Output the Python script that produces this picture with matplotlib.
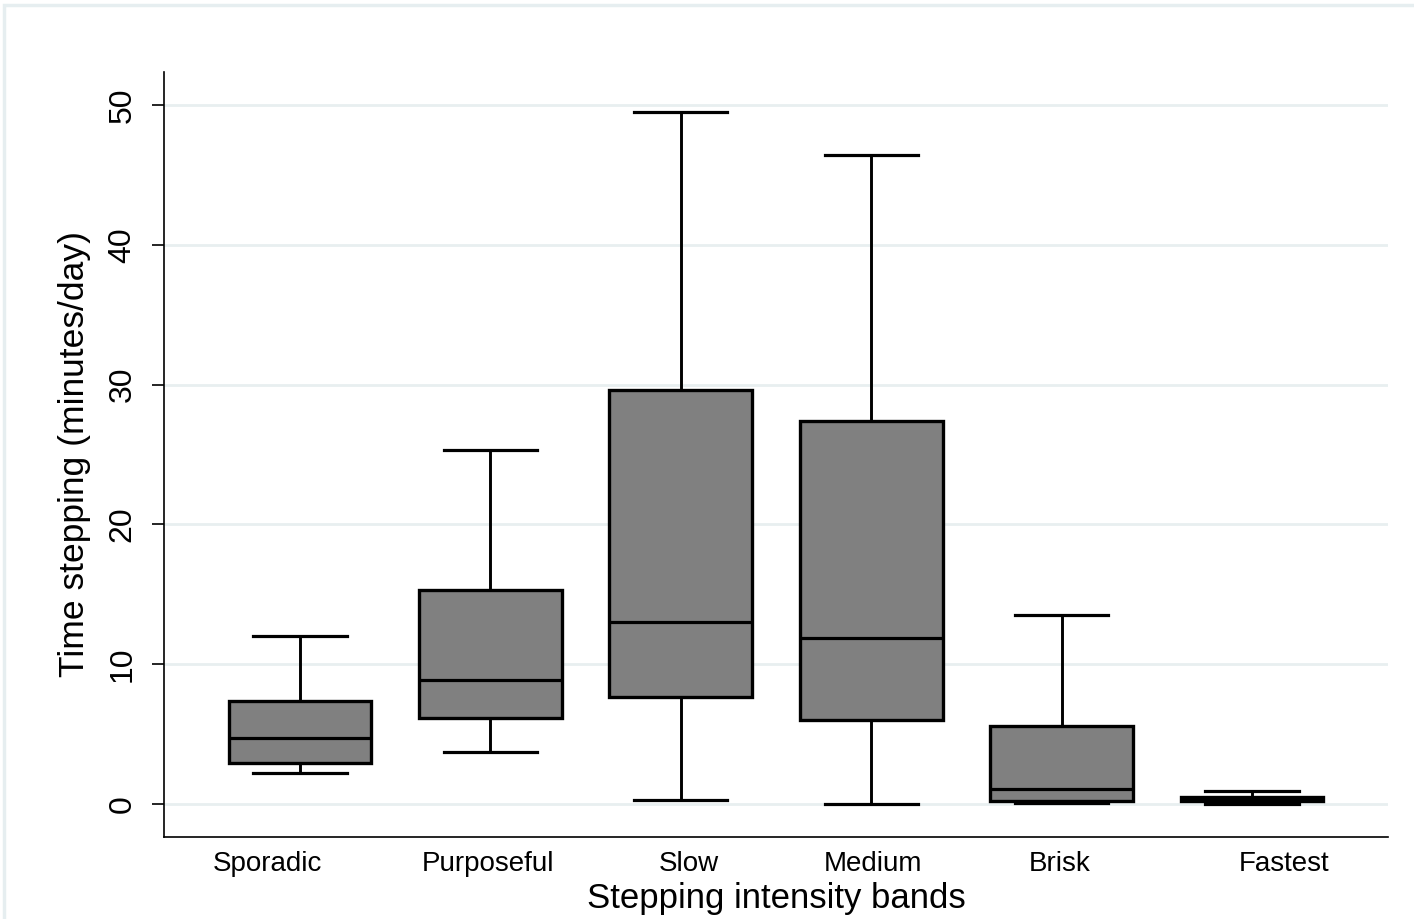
import matplotlib
matplotlib.use('Agg')
import matplotlib.pyplot as plt
from matplotlib.patches import Rectangle

# Box plot summary values (minutes/day)
bands = ['Sporadic', 'Purposeful', 'Slow', 'Medium', 'Brisk', 'Fastest']
whisker_low = [2.2, 3.7, 0.3, 0.0, 0.05, 0.0]
q1 = [2.9, 6.15, 7.65, 6.0, 0.2, 0.2]
median = [4.7, 8.9, 13.0, 11.9, 1.1, 0.35]
q3 = [7.35, 15.3, 29.6, 27.4, 5.6, 0.5]
whisker_high = [12.0, 25.3, 49.5, 46.4, 13.5, 0.95]
y_ticks = [0, 10, 20, 30, 40, 50]

plt.rcParams['font.family'] = ['Liberation Sans', 'DejaVu Sans']

fig = plt.figure(figsize=(14.14, 9.19), dpi=100)
# Stata-style outer frame
fig.patches.append(Rectangle((0.003, -0.01), 1.0, 1.005, transform=fig.transFigure,
                             fill=False, edgecolor='#e6eef0', linewidth=2.5))
ax = fig.add_axes([0.116, 0.0892, 0.8656, 0.8325])

stats = []
for i in range(len(bands)):
    stats.append({'whislo': whisker_low[i], 'q1': q1[i], 'med': median[i],
                  'q3': q3[i], 'whishi': whisker_high[i], 'fliers': []})

ax.bxp(stats, positions=range(len(bands)), widths=0.75, patch_artist=True,
       showfliers=False,
       boxprops=dict(facecolor='#808080', edgecolor='black', linewidth=2.4),
       medianprops=dict(color='black', linewidth=2.3),
       whiskerprops=dict(color='black', linewidth=2.1),
       capprops=dict(color='black', linewidth=2.3),
       capwidths=0.49)

ax.set_xlim(-0.714, 5.714)
ax.set_ylim(-2.36, 52.36)
ax.set_yticks(y_ticks)
ax.set_yticklabels([str(t) for t in y_ticks], rotation=90, va='center', fontsize=23)
ax.tick_params(axis='y', length=9, width=1.2, pad=10)
ax.yaxis.grid(True, color='#e8eff0', linewidth=2)
ax.set_axisbelow(True)

# category labels sit slightly off the box centres, as in the original
ax.set_xticks([-0.173, 0.987, 2.04, 3.01, 3.99, 5.17])
ax.set_xticklabels(bands, fontsize=20)
ax.tick_params(axis='x', length=0, pad=10)

ax.spines['top'].set_visible(False)
ax.spines['right'].set_visible(False)
ax.spines['left'].set_linewidth(1.2)
ax.spines['bottom'].set_linewidth(1.2)

ax.set_ylabel('Time stepping (minutes/day)', fontsize=25.5, labelpad=12)
ax.set_xlabel('Stepping intensity bands', fontsize=25, labelpad=4)

fig.savefig('out.png', dpi=100)
